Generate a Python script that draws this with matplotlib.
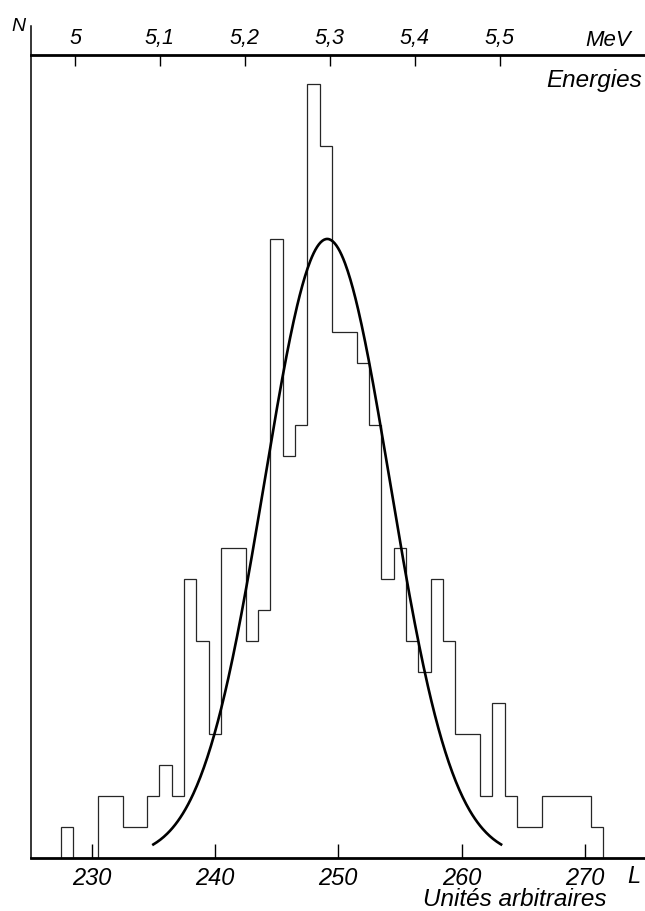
import numpy as np
import matplotlib
matplotlib.use("Agg")
import matplotlib.pyplot as plt
from matplotlib import font_manager

# police proche du lettrage manuscrit (italique)
noms = {f.name for f in font_manager.fontManager.ttflist}
if "Liberation Sans" in noms:
    plt.rcParams["font.family"] = ["Liberation Sans", "DejaVu Sans"]
else:
    plt.rcParams["font.family"] = ["DejaVu Sans"]

# histogramme : nombre de coups par canal (canaux de largeur 1, 228 ... 271)
counts = [1, 0, 0, 2, 2, 1, 1, 2, 3, 2, 9, 7, 4, 10, 10, 7, 8, 20, 13, 14, 25, 23,
          17, 17, 16, 14, 9, 10, 7, 6, 9, 7, 4, 4, 2, 5, 2, 1, 1, 2, 2, 2, 2, 1]
bin_start = 227.5
bin_width = 1.0

# courbe de Gauss ajustee
fit_center = 249.1
fit_sigma = 5.1
fit_peak = 20.0
fit_from = 235.0
fit_to = 263.2

# echelles
L_ticks = [230, 240, 250, 260, 270]
E_ticks = [5.0, 5.1, 5.2, 5.3, 5.4, 5.5]
E_labels = ["5", "5,1", "5,2", "5,3", "5,4", "5,5"]
L_at_5MeV = 228.65
L_per_MeV = 68.9

L_min, L_max = 225.08, 274.87
N_max = 26.88


def L_to_E(L):
    return 5.0 + (L - L_at_5MeV) / L_per_MeV


W, H = 645, 912
fig = plt.figure(figsize=(W / 100, H / 100), dpi=100)
ax = fig.add_axes([31 / W, (H - 859) / H, (W - 31) / W, (859 - 27) / H])

edges = bin_start + bin_width * np.arange(len(counts) + 1)
ax.stairs(counts, edges, color="#262626", lw=0.9)

xs = np.linspace(fit_from, fit_to, 400)
ax.plot(xs, fit_peak * np.exp(-0.5 * ((xs - fit_center) / fit_sigma) ** 2),
        color="black", lw=1.9)

ax.set_xlim(L_min, L_max)
ax.set_ylim(0, N_max)
ax.spines["top"].set_visible(False)
ax.spines["right"].set_visible(False)
ax.spines["bottom"].set_linewidth(2.0)
ax.spines["left"].set_linewidth(1.1)
ax.set_yticks([])
ax.set_xticks(L_ticks, [str(v) for v in L_ticks], fontstyle="italic", fontsize=17)
ax.tick_params(axis="x", direction="in", length=10, width=1, pad=6)

# axe des energies en haut
ax2 = fig.add_axes([31 / W, (H - 55.7 - 20) / H, (W - 31) / W, 20 / H])
ax2.patch.set_visible(False)
ax2.set_xlim(L_to_E(L_min), L_to_E(L_max))
for s in ["bottom", "left", "right"]:
    ax2.spines[s].set_visible(False)
ax2.spines["top"].set_linewidth(2.0)
ax2.set_yticks([])
ax2.xaxis.tick_top()
ax2.set_xticks(E_ticks, E_labels, fontstyle="italic", fontsize=15.5)
ax2.tick_params(axis="x", direction="in", length=8, width=1, pad=5)

fig.text(18.5 / W, 1 - 26.5 / H, "N", fontstyle="italic", fontsize=14, ha="center", va="center")
fig.text(608 / W, 1 - 41 / H, "MeV", fontstyle="italic", fontsize=16, ha="center", va="center")
fig.text(642 / W, 1 - 81 / H, "Energies", fontstyle="italic", fontsize=17.5, ha="right", va="center")
fig.text(633.5 / W, 1 - 876.5 / H, "L", fontstyle="italic", fontsize=17, ha="center", va="center")
fig.text(514.5 / W, 1 - 900 / H, "Unités arbitraires", fontstyle="italic", fontsize=17.5,
         ha="center", va="center")

fig.savefig("out.png", dpi=100)
